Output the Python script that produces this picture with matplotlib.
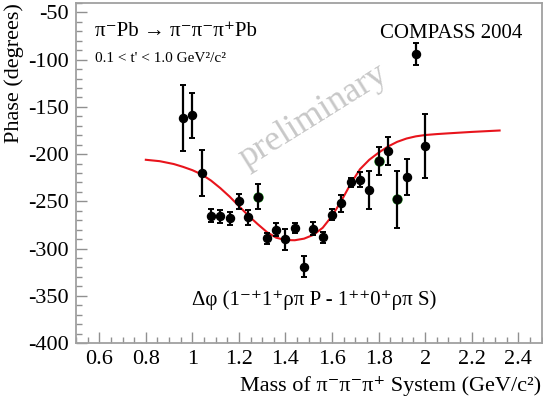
import matplotlib
matplotlib.use("Agg")
import matplotlib.pyplot as plt
from matplotlib.ticker import MultipleLocator, FuncFormatter

plt.rcParams['font.family'] = ['Liberation Serif', 'DejaVu Serif']

# Measured relative phase per mass bin
mass = [0.96, 1.00, 1.04, 1.08, 1.12, 1.16, 1.20, 1.24, 1.28, 1.32, 1.36, 1.40, 1.44, 1.48,
        1.52, 1.56, 1.60, 1.64, 1.68, 1.72, 1.76, 1.80, 1.84, 1.88, 1.92, 1.96, 2.00]
phase = [-162, -159, -220, -265, -266, -268, -250, -267, -245, -289, -280, -290, -278, -319,
         -279, -288, -264, -252, -230, -227, -238, -207, -197, -248, -224, -94, -191]
phase_err = [35, 24, 24, 7, 7, 7, 8, 8, 13, 6, 7, 11, 5, 11,
             7, 6, 6, 9, 5, 8, 20, 15, 15, 30, 19, 12, 34]
# bins drawn with the green marker
green_bins = [1.28, 1.80, 1.88]

# Fit result
fit_mass = [0.80, 0.86, 0.92, 0.96, 1.00, 1.04, 1.08, 1.12, 1.16, 1.20, 1.24, 1.28, 1.32, 1.36,
            1.40, 1.44, 1.48, 1.52, 1.56, 1.60, 1.64, 1.68, 1.72, 1.76, 1.80, 1.84, 1.88, 1.92,
            1.96, 2.00, 2.05, 2.10, 2.20, 2.32]
fit_phase = [-206, -207.5, -210.5, -213.5, -217, -221.5, -228, -236, -245, -255, -265, -274,
             -282.5, -288.5, -291, -291.2, -289.5, -285.5, -278, -265.5, -249.5, -231.5, -216,
             -206, -198.5, -192, -187, -183.5, -181.2, -179.8, -178.8, -178, -176.5, -175]

fig = plt.figure(figsize=(5.43, 4.05), dpi=100)
ax = fig.add_axes([76 / 543, 1 - 343 / 405, (541.5 - 76) / 543, (343 - 3) / 405])

ax.plot(fit_mass, fit_phase, color='#e8141c', lw=1.5, zorder=2)

gx = [m for m in mass if m in green_bins]
gy = [p for m, p in zip(mass, phase) if m in green_bins]
ax.plot(gx, gy, 'o', color='#2ca02c', ms=6.5, zorder=3)
ax.errorbar(mass, phase, yerr=phase_err, fmt='o', color='black', ms=5.8,
            elinewidth=1.6, capsize=2, capthick=1.4, zorder=4)

ax.set_xlim(0.5, 2.5)
ax.set_ylim(-400, -40)

ax.xaxis.set_major_locator(MultipleLocator(0.2))
ax.xaxis.set_minor_locator(MultipleLocator(0.05))
ax.yaxis.set_major_locator(MultipleLocator(50))
ax.yaxis.set_minor_locator(MultipleLocator(10))
ax.xaxis.set_major_formatter(FuncFormatter(lambda v, p: '%g' % round(v, 2)))
ax.yaxis.set_major_formatter(FuncFormatter(lambda v, p: '%d' % v))

for s in ax.spines.values():
    s.set_color('#a0a0a0')
    s.set_linewidth(1.3)
ax.tick_params(which='both', direction='in', color='#909090', labelsize=16)
ax.tick_params(which='major', length=8, width=1.0, pad=5)
ax.tick_params(which='minor', length=4, width=1.0)

# labels and annotations
fig.text(14 / 543, 1 - 3 / 405, 'Phase (degrees)', rotation=90, ha='center', va='top', fontsize=16)
fig.text(541 / 543, 1 - 386 / 405, 'Mass of \u03c0\u207b\u03c0\u207b\u03c0\u207a System (GeV/c\u00b2)',
         ha='right', va='center', fontsize=16)

ax.text(95 / 543, 1 - 32 / 405, '\u03c0\u207bPb \u2192 \u03c0\u207b\u03c0\u207b\u03c0\u207aPb',
        transform=fig.transFigure, ha='left', va='center', fontsize=15)
ax.text(95 / 543, 1 - 58 / 405, "0.1 < t' < 1.0 GeV\u00b2/c\u00b2",
        transform=fig.transFigure, ha='left', va='center', fontsize=11)
ax.text(522 / 543, 1 - 33 / 405, 'COMPASS 2004',
        transform=fig.transFigure, ha='right', va='center', fontsize=15)
ax.text(314 / 543, 1 - 300 / 405, '\u0394\u03c6 (1\u207b\u207a1\u207a\u03c1\u03c0 P - 1\u207a\u207a0\u207a\u03c1\u03c0 S)',
        transform=fig.transFigure, ha='center', va='center', fontsize=15)
ax.text(313 / 543, 1 - 116 / 405, 'preliminary', transform=fig.transFigure,
        ha='center', va='center', rotation=32, fontsize=26, color='#c8c8c8', zorder=1)

fig.savefig('out.png', dpi=100)
